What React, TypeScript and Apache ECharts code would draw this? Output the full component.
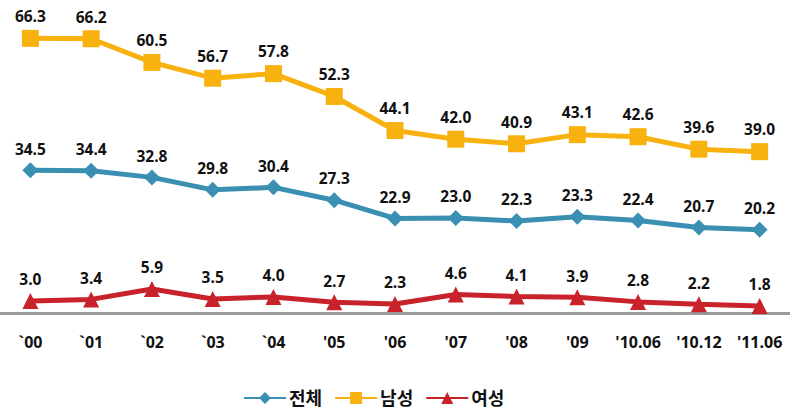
import React, { useEffect, useRef } from "react";
import * as echarts from "echarts";

const categories = ["`00", "`01", "`02", "`03", "`04", "'05", "'06", "'07", "'08", "'09", "'10.06", "'10.12", "'11.06"];
const totalValues = [34.5, 34.4, 32.8, 29.8, 30.4, 27.3, 22.9, 23.0, 22.3, 23.3, 22.4, 20.7, 20.2];
const maleValues = [66.3, 66.2, 60.5, 56.7, 57.8, 52.3, 44.1, 42.0, 40.9, 43.1, 42.6, 39.6, 39.0];
const femaleValues = [3.0, 3.4, 5.9, 3.5, 4.0, 2.7, 2.3, 4.6, 4.1, 3.9, 2.8, 2.2, 1.8];

const FONT = "'Open Sans', 'Noto Sans CJK KR', sans-serif";

export default function App() {
  const ref = useRef<HTMLDivElement>(null);
  useEffect(() => {
    if (!ref.current) return;
    const chart = echarts.init(ref.current, undefined, { renderer: "svg" });
    const label = {
      show: true,
      position: "top" as const,
      distance: 6,
      color: "#111",
      fontWeight: "bold" as const,
      fontSize: 15.5,
      fontFamily: FONT,
      formatter: (p: any) => Number(p.value).toFixed(1),
    };
    chart.setOption({
      animation: false,
      backgroundColor: "#fff",
      grid: { left: 0, right: 0, top: 23, bottom: 102.5, containLabel: false },
      legend: {
        bottom: 4,
        left: 238,
        itemWidth: 42,
        itemHeight: 15,
        itemGap: 12,
        textStyle: { fontSize: 18, fontWeight: "bold", color: "#111", fontFamily: FONT, padding: [0, 0, 0, -2] },
        data: ["전체", "남성", "여성"],
      },
      xAxis: {
        type: "category",
        data: categories,
        boundaryGap: true,
        axisLine: { lineStyle: { color: "#9a9a9a", width: 3 } },
        axisTick: { show: false },
        axisLabel: { margin: 20, fontSize: 16, fontWeight: "bold", color: "#111", fontFamily: FONT, interval: 0 },
      },
      yAxis: {
        type: "value",
        min: 0,
        max: 70,
        show: false,
        splitLine: { show: false },
      },
      series: [
        {
          name: "전체",
          type: "line",
          data: totalValues,
          symbol: "diamond",
          symbolSize: 16,
          color: "#3a8fb2",
          lineStyle: { width: 5, color: "#3a8fb2" },
          itemStyle: { color: "#3a8fb2" },
          label,
        },
        {
          name: "남성",
          type: "line",
          data: maleValues,
          symbol: "rect",
          symbolSize: 17,
          color: "#f7b20f",
          lineStyle: { width: 5, color: "#f7b20f" },
          itemStyle: { color: "#f7b20f" },
          label,
        },
        {
          name: "여성",
          type: "line",
          data: femaleValues,
          symbol: "triangle",
          symbolSize: 16,
          color: "#c8222b",
          lineStyle: { width: 5, color: "#c8222b" },
          itemStyle: { color: "#c8222b" },
          label,
        },
      ],
    });
    return () => chart.dispose();
  }, []);
  return <div ref={ref} style={{ width: 790, height: 416, position: "absolute", left: 0, top: 0 }} />;
}
